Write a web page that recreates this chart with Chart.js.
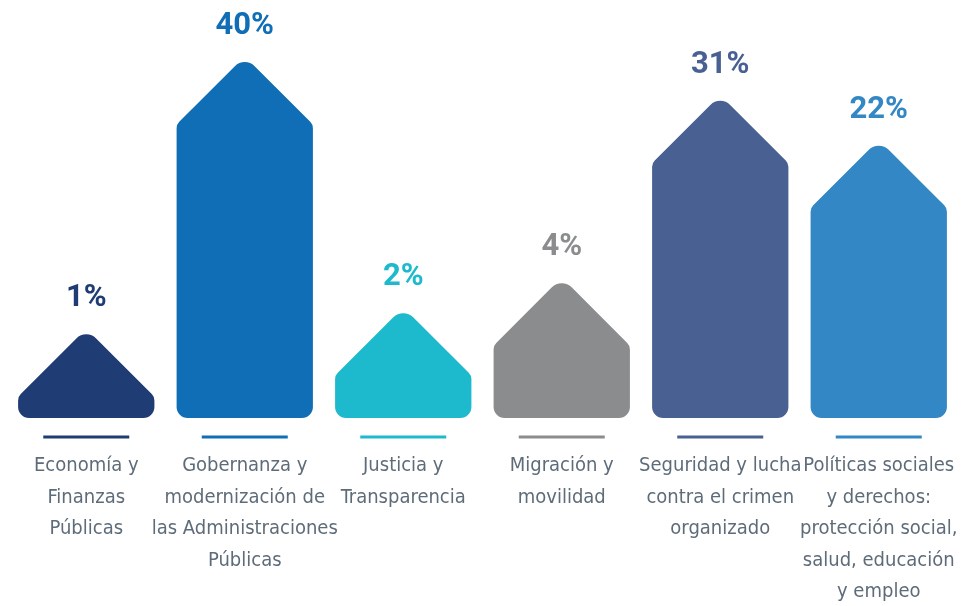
<!DOCTYPE html>
<html>
<head>
<meta charset="utf-8">
<script src="https://cdn.jsdelivr.net/npm/chart.js@4"></script>
<style>
  html, body { margin: 0; padding: 0; background: #fff; }
  #wrap { width: 969px; height: 606px; }
</style>
</head>
<body>
<div id="wrap"><canvas id="canvas"></canvas></div>
<script>
// chart data
var categories = [
    ['Economía y', 'Finanzas', 'Públicas'],
    ['Gobernanza y', 'modernización de', 'las Administraciones', 'Públicas'],
    ['Justicia y', 'Transparencia'],
    ['Migración y', 'movilidad'],
    ['Seguridad y lucha', 'contra el crimen', 'organizado'],
    ['Políticas sociales', 'y derechos:', 'protección social,', 'salud, educación', 'y empleo']
];
var values = [1, 40, 2, 4, 31, 22];
var colors = ['#203c74', '#0f6eb5', '#1dbacd', '#8b8c8e', '#486092', '#3387c5'];

// bars grow with the square root of the value, on a common offset base
var BASE = -0.75;
var barData = values.map(function (v) { return [BASE, Math.sqrt(v)]; });

// draws the arrow shaped bars, the underline and the value label
var arrowBars = {
    id: 'arrowBars',
    afterDatasetsDraw: function (chart) {
        var ctx = chart.ctx;
        var meta = chart.getDatasetMeta(0);
        meta.data.forEach(function (bar, i) {
            var w = bar.width, x = bar.x, top = bar.y, base = bar.base;
            var left = x - w / 2, right = x + w / 2;
            var shoulder = top + w / 2;
            ctx.save();
            ctx.fillStyle = colors[i];
            ctx.beginPath();
            ctx.moveTo(x, base);
            ctx.arcTo(left, base, left, shoulder, 11);
            ctx.arcTo(left, shoulder, x, top, 9);
            ctx.arcTo(x, top, right, shoulder, 14);
            ctx.arcTo(right, shoulder, right, base, 9);
            ctx.arcTo(right, base, x, base, 11);
            ctx.closePath();
            ctx.fill();

            ctx.strokeStyle = colors[i];
            ctx.lineWidth = 3;
            ctx.beginPath();
            ctx.moveTo(x - 43, base + 19);
            ctx.lineTo(x + 43, base + 19);
            ctx.stroke();

            ctx.font = 'bold 31px Roboto, "DejaVu Sans", sans-serif';
            ctx.textAlign = 'center';
            ctx.textBaseline = 'middle';
            ctx.fillText(values[i] + '%', x, top - 30);
            ctx.restore();
        });
    }
};

var config = {
    type: 'bar',
    data: {
        labels: categories,
        datasets: [{
            data: barData,
            backgroundColor: 'rgba(0,0,0,0)',
            barPercentage: 0.86,
            categoryPercentage: 1
        }]
    },
    options: {
        responsive: true,
        maintainAspectRatio: false,
        animation: false,
        layout: {
            padding: { left: 7, right: 11, top: 10, bottom: -2 }
        },
        plugins: {
            legend: { display: false },
            tooltip: { enabled: false }
        },
        scales: {
            x: {
                // tick marks are not drawn, their length only pushes the labels down
                grid: { display: false, drawTicks: true, tickLength: 32 },
                border: { display: false },
                ticks: {
                    color: '#5e6c79',
                    padding: 0,
                    maxRotation: 0,
                    minRotation: 0,
                    autoSkip: false,
                    font: {
                        family: '"DejaVu Sans Condensed", "Liberation Sans", sans-serif',
                        size: 20,
                        lineHeight: 1.58
                    }
                }
            },
            y: {
                display: false,
                min: BASE,
                max: 7.23
            }
        }
    },
    plugins: [arrowBars]
};

window.onload = function () {
    window.myChart = new Chart(document.getElementById('canvas'), config);
};
</script>
</body>
</html>
